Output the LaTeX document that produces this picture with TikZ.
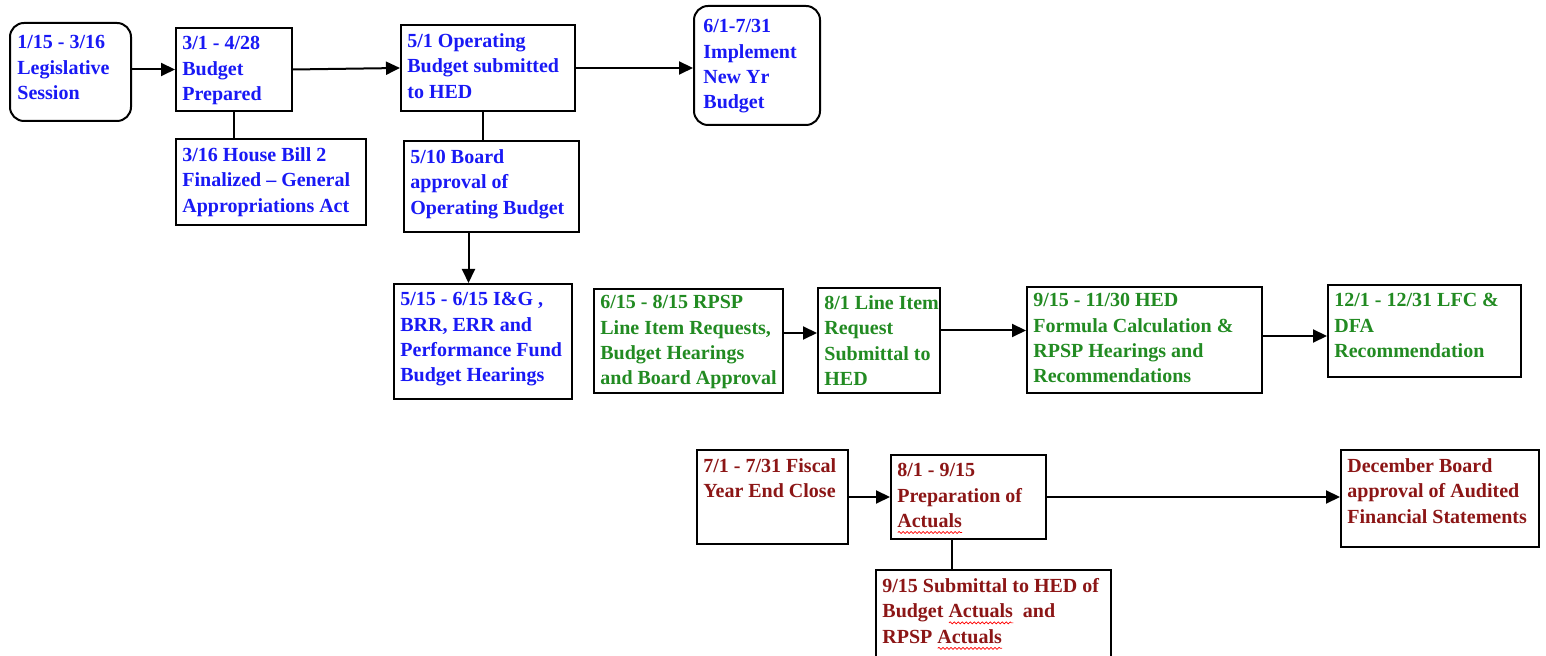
\documentclass[tikz,border=0pt]{standalone}
\usepackage{fontspec}
\setmainfont{Liberation Serif}
\usetikzlibrary{arrows.meta,fit,calc,decorations.pathmorphing}
\definecolor{tblue}{RGB}{25,25,245}
\definecolor{tgreen}{RGB}{34,139,34}
\definecolor{tred}{RGB}{140,22,22}
\newcommand\spellwave[1]{\setbox0\hbox{#1}\rlap{\tikz[baseline=0pt]\draw[red,line width=0.35pt,decorate,decoration={snake,amplitude=0.5pt,segment length=2pt}] (0pt,-2.5pt) -- (\the\wd0,-2.5pt);}\box0}
\begin{document}
\begin{tikzpicture}[x=0.5pt,y=-0.5pt,
  box/.style={draw=black, line width=1pt, inner sep=0pt},
  rbox/.style={box, rounded corners=7pt},
  txt/.style={anchor=north west, align=left, inner xsep=3.5pt, inner ysep=4.5pt,
    font=\fontsize{10}{12.7}\selectfont\bfseries, execute at begin node=\strut},
  arr/.style={line width=1pt, -{Triangle[length=7pt,width=6.5pt]}},
  ln/.style={line width=1pt}]
\useasboundingbox (0,0) rectangle (1546,656);
\fill[white] (0,0) rectangle (1546,656);
\clip (0,0) rectangle (1546,656);

% blue boxes
\node[rbox, fit={(10,23) (131,121)}] (a) {};
\node[txt, text=tblue, inner xsep=4pt, inner ysep=6.5pt] (at) at (a.north west) {1/15 - 3/16\\Legislative\\Session};
\node[box, fit={(176,28) (292,111)}] (b) {};
\node[txt, text=tblue, inner ysep=4.5pt] (bt) at (b.north west) {3/1 - 4/28\\Budget\\Prepared};
\node[box, fit={(176,139) (366,225)}] (c) {};
\node[txt, text=tblue] (ct) at (c.north west) {3/16 House Bill 2\\Finalized – General\\Appropriations Act};
\node[box, fit={(401,25) (575,111)}] (d) {};
\node[txt, text=tblue] (dt) at (d.north west) {5/1 Operating\\Budget submitted\\to HED};
\node[box, fit={(404,141) (579,232)}] (e) {};
\node[txt, text=tblue] (et) at (e.north west) {5/10 Board\\approval of\\Operating Budget};
\node[rbox, fit={(694,6) (820,125)}] (f) {};
\node[txt, text=tblue, inner xsep=5pt, inner ysep=7pt] (ft) at (f.north west) {6/1-7/31\\Implement\\New Yr\\Budget};
\node[box, fit={(394,284) (572,399)}] (g) {};
\node[txt, text=tblue] (gt) at (g.north west) {5/15 - 6/15 I\&G ,\\BRR, ERR and\\Performance Fund\\Budget Hearings};

% green boxes
\node[box, fit={(594,289) (783,393)}] (h) {};
\node[txt, text=tgreen, inner ysep=3.5pt] (ht) at (h.north west) {6/15 - 8/15 RPSP\\Line Item Requests,\\Budget Hearings\\and Board Approval};
\node[box, fit={(818,288) (940,393)}] (i) {};
\node[txt, text=tgreen, inner ysep=4pt] (it) at (i.north west) {8/1 Line Item\\Request\\Submittal to\\HED};
\node[box, fit={(1027,287) (1262,393)}] (j) {};
\node[txt, text=tgreen, inner ysep=3.5pt] (jt) at (j.north west) {9/15 - 11/30 HED\\Formula Calculation \&\\RPSP Hearings and\\Recommendations};
\node[box, fit={(1328,285) (1521,377)}] (k) {};
\node[txt, text=tgreen] (kt) at (k.north west) {12/1 - 12/31 LFC \&\\DFA\\Recommendation};

% red boxes
\node[box, fit={(697,450) (848,544)}] (l) {};
\node[txt, text=tred] (lt) at (l.north west) {7/1 - 7/31 Fiscal\\Year End Close};
\node[box, fit={(891,455) (1046,539)}] (m) {};
\node[txt, text=tred] (mt) at (m.north west) {8/1 - 9/15\\Preparation of\\\spellwave{Actuals}};
\node[box, fit={(876,570) (1111,662)}] (n) {};
\node[txt, text=tred] (nt) at (n.north west) {9/15 Submittal to HED of\\Budget \spellwave{Actuals}\ \ and\\RPSP \spellwave{Actuals}};
\node[box, fit={(1341,450) (1539,547)}] (o) {};
\node[txt, text=tred] (ot) at (o.north west) {December Board\\approval of Audited\\Financial Statements};

% connectors
\draw[arr] (a.east |- b.west) -- (b.west);
\draw[arr] (b.east) -- (d.west);
\draw[ln] (b.south) -- (b.south |- c.north);
\draw[arr] (d.east) -- (f.west |- d.east);
\coordinate (d1) at ($(d.south)+(-5,0)$);
\draw[ln] (d1) -- (d1 |- e.north);
\coordinate (e1) at ($(e.south)+(-23,0)$);
\draw[arr] (e1) -- (e1 |- g.north);
\coordinate (h1) at ($(h.east)+(0,-8)$);
\draw[arr] (h1) -- (h1 -| i.west);
\coordinate (i1) at ($(i.east)+(0,-10)$);
\draw[arr] (i1) -- (i1 -| j.west);
\coordinate (j1) at ($(j.east)+(0,-4)$);
\draw[arr] (j1) -- (j1 -| k.west);
\draw[arr] (l.east) -- (l.east -| m.west);
\draw[arr] (m.east) -- (m.east -| o.west);
\coordinate (m1) at ($(m.south)+(-16.5,0)$);
\draw[ln] (m1) -- (m1 |- n.north);
\end{tikzpicture}
\end{document}
